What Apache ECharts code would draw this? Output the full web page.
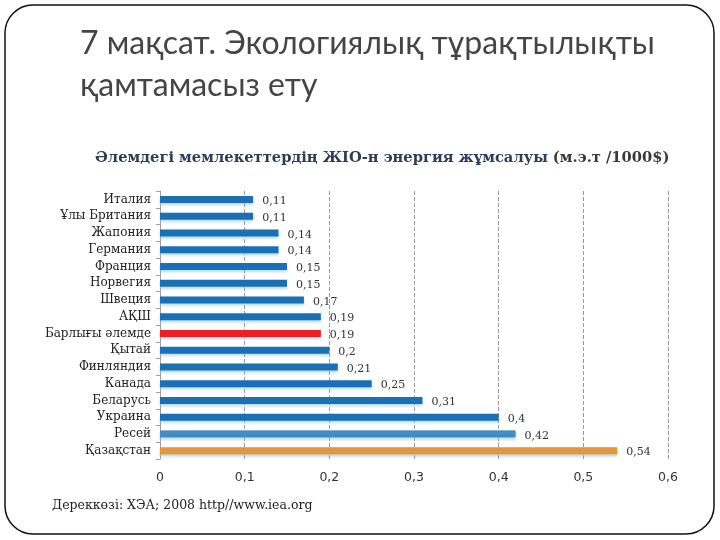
<!DOCTYPE html>
<html>
<head>
<meta charset="utf-8">
<script src="https://cdn.jsdelivr.net/npm/echarts@6/dist/echarts.min.js"></script>
<style>html,body{margin:0;padding:0;background:#fff}#c{width:720px;height:540px}</style>
</head>
<body>
<div id="c"></div>
<script>
const categories = ['Италия','Ұлы Британия','Жапония','Германия','Франция','Норвегия','Швеция','АҚШ','Барлығы әлемде','Қытай','Финляндия','Канада','Беларусь','Украина','Ресей','Қазақстан'];
const values = [0.11,0.11,0.14,0.14,0.15,0.15,0.17,0.19,0.19,0.2,0.21,0.25,0.31,0.4,0.42,0.54];
const xTicks = [0,0.1,0.2,0.3,0.4,0.5,0.6];

const baseColor = '#1B6FB5';
const special = {
  'Барлығы әлемде': {color:'#EE1F23', border:0},
  'Ресей': {color:'#3F88C0', border:1},
  'Қазақстан': {color:'#F7901E', border:2.5}
};
const fmt = v => String(v).replace('.', ',');

const chart = echarts.init(document.getElementById('c'));
chart.setOption({
  animation:false,
  title:[
    {text:'7 мақсат. Экологиялық тұрақтылықты\nқамтамасыз ету', left:75, top:18,
     textStyle:{fontFamily:'Lato', fontSize:32, fontWeight:'normal', color:'#454545', lineHeight:42}},
    {text:'{b|Әлемдегі мемлекеттердің ЖІО-н энергия жұмсалуы} {n|(м.э.т /1000$)}', left:90, top:144,
     textStyle:{rich:{
       b:{fontFamily:'DejaVu Serif', fontSize:14.7, fontWeight:'bold', color:'#2E3D5A'},
       n:{fontFamily:'DejaVu Serif', fontSize:14.7, color:'#3A3A3A'}}}},
    {text:'Дереккөзі: ХЭА; 2008 http//www.iea.org', left:47, top:494,
     textStyle:{fontFamily:'DejaVu Serif', fontSize:12.5, fontWeight:'normal', color:'#222'}}
  ],
  graphic:[{type:'rect', shape:{x:5, y:5, width:709, height:529, r:28},
            style:{fill:'none', stroke:'#111', lineWidth:1.5}, silent:true}],
  grid:{left:160, right:52, top:191, bottom:81, containLabel:false},
  xAxis:{type:'value', min:0, max:0.6, interval:0.1,
    axisLine:{show:false}, axisTick:{show:false},
    splitLine:{show:true, lineStyle:{type:'dashed', color:'#999', width:1}},
    axisLabel:{formatter:v=>fmt(+v.toFixed(1)), fontFamily:'DejaVu Sans', fontSize:12.5, color:'#333', margin:12}},
  yAxis:{type:'category', data:categories, inverse:true,
    axisLine:{show:true, lineStyle:{color:'#A0A0A0'}},
    axisTick:{show:true, length:4, lineStyle:{color:'#A0A0A0'}},
    axisLabel:{fontFamily:'DejaVu Serif', fontSize:12, color:'#222', margin:9}},
  series:[{type:'bar', barWidth:7,
    data: values.map((v,i)=>{
      const s = special[categories[i]];
      const c = s ? s.color : baseColor;
      return {value:v, itemStyle:{color:c, borderColor:c, borderWidth:s ? s.border : 0}};
    }),
    itemStyle:{shadowColor:'rgba(120,190,235,0.55)', shadowBlur:3, shadowOffsetY:2},
    label:{show:true, position:'right', distance:9, offset:[0,2], formatter:p=>fmt(p.value),
      fontFamily:'DejaVu Serif', fontSize:11, color:'#333'}
  }]
});
</script>
</body>
</html>
